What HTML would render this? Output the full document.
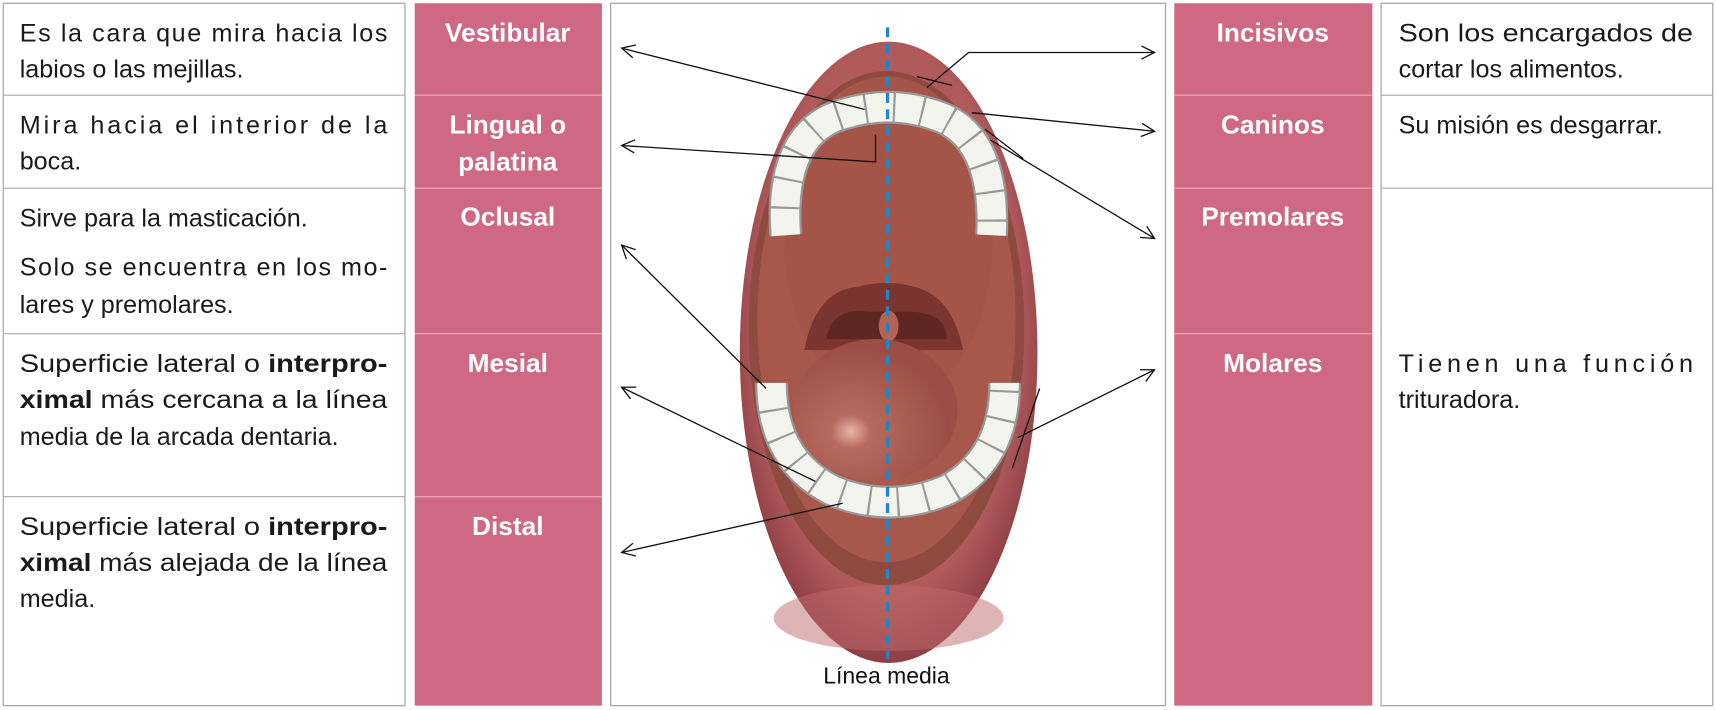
<!DOCTYPE html>
<html><head><meta charset="utf-8"><style>
html,body{margin:0;padding:0;background:#fff;width:1716px;height:710px;overflow:hidden}
svg{display:block}
.t{font-family:"Liberation Sans",sans-serif;font-size:23px;fill:#1a1a1a}
.b{font-weight:bold}
.p{font-family:"Liberation Sans",sans-serif;font-weight:bold;font-size:24px;fill:#fff;text-anchor:middle}
</style></head><body>
<svg width="1716" height="710" viewBox="0 0 1568 649" preserveAspectRatio="none" xmlns="http://www.w3.org/2000/svg">
<defs>
<marker id="ah" markerWidth="14" markerHeight="14" refX="13" refY="7" orient="auto" markerUnits="userSpaceOnUse">
<path d="M1,1 L13,7 L1,13" fill="none" stroke="#111" stroke-width="1.2"/></marker>
<radialGradient id="lip" cx="50%" cy="45%" r="55%"><stop offset="0.8" stop-color="#b05a5c"/><stop offset="1" stop-color="#8e3e44"/></radialGradient>
<radialGradient id="tg" cx="35%" cy="65%" r="60%"><stop offset="0" stop-color="#e8b4a8"/><stop offset="0.2" stop-color="#b76a5e"/><stop offset="1" stop-color="#9c4e45"/></radialGradient>
</defs>
<rect x="3" y="3" width="367" height="642" fill="#fff" stroke="#aaa" stroke-width="1.2"/>
<line x1="3" y1="87" x2="370" y2="87" stroke="#aaa"/><line x1="3" y1="172" x2="370" y2="172" stroke="#aaa"/>
<line x1="3" y1="305" x2="370" y2="305" stroke="#aaa"/><line x1="3" y1="454" x2="370" y2="454" stroke="#aaa"/>
<rect x="379" y="3" width="171" height="642" fill="#cf6882"/>
<g stroke="#e8a0b2" stroke-width="1.2"><line x1="379" y1="87" x2="550" y2="87"/><line x1="379" y1="172" x2="550" y2="172"/><line x1="379" y1="305" x2="550" y2="305"/><line x1="379" y1="454" x2="550" y2="454"/></g>
<rect x="558" y="3" width="507" height="642" fill="#fff" stroke="#aaa" stroke-width="1.2"/>
<rect x="1073" y="3" width="181" height="642" fill="#cf6882"/>
<g stroke="#e8a0b2" stroke-width="1.2"><line x1="1073" y1="87" x2="1254" y2="87"/><line x1="1073" y1="172" x2="1254" y2="172"/><line x1="1073" y1="305" x2="1254" y2="305"/></g>
<rect x="1262" y="3" width="303" height="642" fill="#fff" stroke="#aaa" stroke-width="1.2"/>
<line x1="1262" y1="87" x2="1565" y2="87" stroke="#aaa"/><line x1="1262" y1="172" x2="1565" y2="172" stroke="#aaa"/>
<text class="t" x="18" y="38" textLength="336" lengthAdjust="spacing">Es la cara que mira hacia los</text>
<text class="t" x="18" y="71">labios o las mejillas.</text>
<text class="t" x="18" y="122" textLength="336" lengthAdjust="spacing">Mira hacia el interior de la</text>
<text class="t" x="18" y="155">boca.</text>
<text class="t" x="18" y="207">Sirve para la masticación.</text>
<text class="t" x="18" y="252" textLength="336" lengthAdjust="spacing">Solo se encuentra en los mo-</text>
<text class="t" x="18" y="286">lares y premolares.</text>
<text class="t" x="18" y="340" textLength="336" lengthAdjust="spacingAndGlyphs">Superficie lateral o <tspan class="b">interpro-</tspan></text>
<text class="t" x="18" y="373" textLength="336" lengthAdjust="spacingAndGlyphs"><tspan class="b">ximal</tspan> más cercana a la línea</text>
<text class="t" x="18" y="407">media de la arcada dentaria.</text>
<text class="t" x="18" y="489" textLength="336" lengthAdjust="spacingAndGlyphs">Superficie lateral o <tspan class="b">interpro-</tspan></text>
<text class="t" x="18" y="522" textLength="336" lengthAdjust="spacingAndGlyphs"><tspan class="b">ximal</tspan> más alejada de la línea</text>
<text class="t" x="18" y="555">media.</text>
<text class="p" x="464" y="38">Vestibular</text>
<text class="p" x="464" y="122">Lingual o</text>
<text class="p" x="464" y="156">palatina</text>
<text class="p" x="464" y="206">Oclusal</text>
<text class="p" x="464" y="340">Mesial</text>
<text class="p" x="464" y="489">Distal</text>
<text class="p" x="1163" y="38">Incisivos</text>
<text class="p" x="1163" y="122">Caninos</text>
<text class="p" x="1163" y="206">Premolares</text>
<text class="p" x="1163" y="340">Molares</text>
<text class="t" x="1278" y="38" textLength="269" lengthAdjust="spacingAndGlyphs">Son los encargados de</text>
<text class="t" x="1278" y="71">cortar los alimentos.</text>
<text class="t" x="1278" y="122">Su misión es desgarrar.</text>
<text class="t" x="1278" y="340" textLength="269" lengthAdjust="spacing">Tienen una función</text>
<text class="t" x="1278" y="373">trituradora.</text>
<ellipse cx="812" cy="322" rx="136" ry="284" fill="url(#lip)"/>
<ellipse cx="812" cy="565" rx="105" ry="30" fill="#c06a6c" opacity="0.5"/>
<ellipse cx="810" cy="300" rx="126" ry="235" fill="#8f4a40"/>
<ellipse cx="810" cy="292" rx="118" ry="222" fill="#a8584a"/>
<ellipse cx="812" cy="220" rx="95" ry="150" fill="#a55548"/>
<path d="M735,320 Q745,265 785,262 Q810,255 835,262 Q870,270 880,320 Z" fill="#7a3530"/>
<path d="M755,310 Q760,280 795,285 L830,285 Q865,285 865,310 Z" fill="#5e2622"/>
<ellipse cx="812" cy="298" rx="9" ry="14" fill="#b46456"/>
<ellipse cx="800" cy="375" rx="75" ry="65" fill="url(#tg)"/>
<path d="M718,215 Q712,130 760,108 Q812,88 862,108 Q910,130 906,215" fill="none" stroke="#999" stroke-width="30"/>
<path d="M718,215 Q712,130 760,108 Q812,88 862,108 Q910,130 906,215" fill="none" stroke="#f4f4ef" stroke-width="26" stroke-dasharray="24 2"/>
<path d="M705,350 Q705,420 760,448 Q812,470 865,448 Q918,420 918,350" fill="none" stroke="#999" stroke-width="30"/>
<path d="M705,350 Q705,420 760,448 Q812,470 865,448 Q918,420 918,350" fill="none" stroke="#f4f4ef" stroke-width="26" stroke-dasharray="24 2"/>
<line x1="811" y1="25" x2="811" y2="602" stroke="#1f86c8" stroke-width="3" stroke-dasharray="9 6"/>
<text x="810" y="625" font-family="Liberation Sans,sans-serif" font-size="21" fill="#111" text-anchor="middle">Línea media</text>
<g stroke="#111" stroke-width="1.2" fill="none">
<line x1="790" y1="100" x2="568" y2="44" marker-end="url(#ah)"/>
<polyline points="800,123 800,148 568,133" marker-end="url(#ah)"/>
<line x1="700" y1="355" x2="568" y2="224" marker-end="url(#ah)"/>
<line x1="745" y1="440" x2="568" y2="354" marker-end="url(#ah)"/>
<line x1="770" y1="460" x2="568" y2="505" marker-end="url(#ah)"/>
<polyline points="847,80 885,48 1055,48" marker-end="url(#ah)"/>
<line x1="838" y1="70" x2="870" y2="78"/>
<line x1="888" y1="103" x2="1055" y2="120" marker-end="url(#ah)"/>
<line x1="905" y1="128" x2="1055" y2="218" marker-end="url(#ah)"/>
<line x1="900" y1="118" x2="935" y2="145"/>
<line x1="930" y1="400" x2="1055" y2="338" marker-end="url(#ah)"/>
<line x1="950" y1="355" x2="925" y2="428"/>
</g>
</svg>
</body></html>
